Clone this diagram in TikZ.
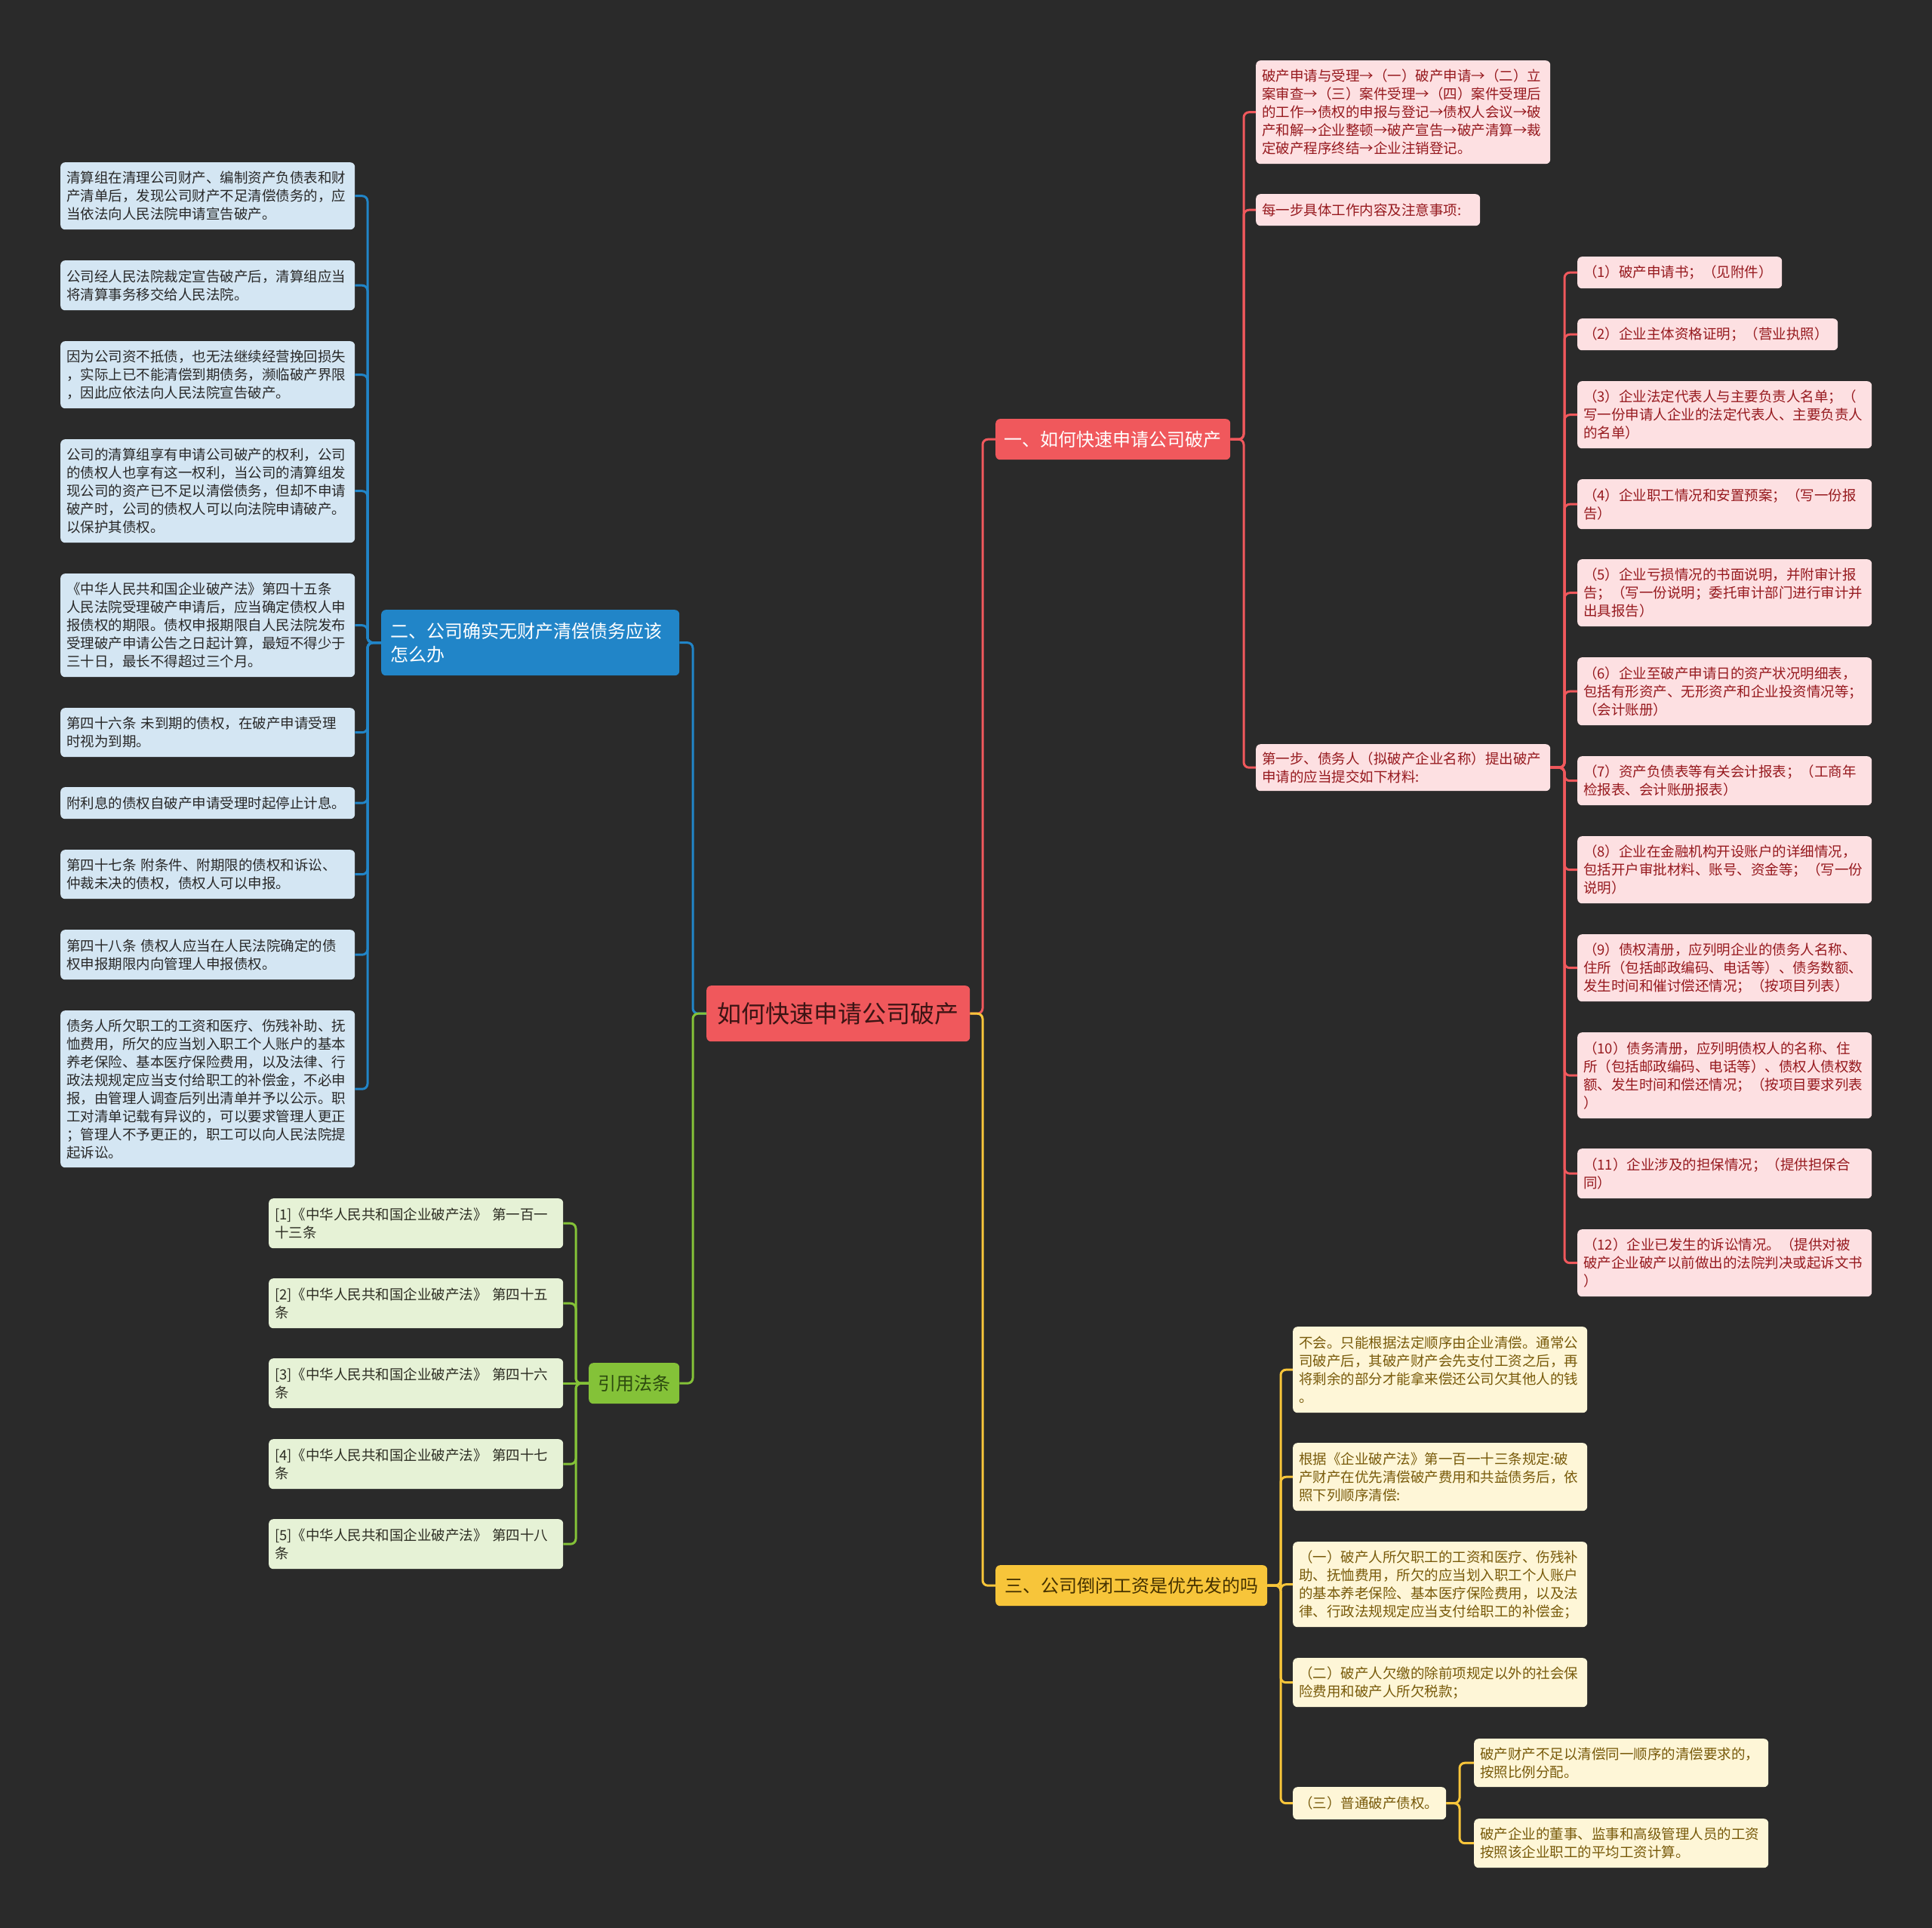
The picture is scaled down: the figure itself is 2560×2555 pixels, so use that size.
\documentclass[tikz,border=0pt]{standalone}
\usepackage{fontspec}
\usepackage{tikz}
\newfontfamily\cjk{Noto Sans CJK SC}
\newcommand\lfnt{\cjk\fontsize{18.5}{24}\selectfont}
\newcommand\mfnt{\cjk\fontsize{24}{31}\selectfont}
\newcommand\rfnt{\cjk\fontsize{32}{40}\selectfont}
\definecolor{bg}{RGB}{42,42,42}
\definecolor{bf}{RGB}{212,230,243}\definecolor{bt}{RGB}{40,40,40}\definecolor{bc}{RGB}{33,133,200}
\definecolor{gf}{RGB}{230,242,214}\definecolor{gt}{RGB}{45,45,35}\definecolor{gc}{RGB}{132,194,56}\definecolor{gmt}{RGB}{45,75,15}
\definecolor{rf}{RGB}{253,224,226}\definecolor{rt}{RGB}{150,25,30}\definecolor{rc}{RGB}{240,88,92}\definecolor{rmt}{RGB}{60,20,20}
\definecolor{yf}{RGB}{254,246,215}\definecolor{yt}{RGB}{120,90,10}\definecolor{yc}{RGB}{247,197,58}\definecolor{ymt}{RGB}{70,50,0}
\tikzset{leaf/.style={anchor=north west,rounded corners=6pt,inner xsep=8pt,inner ysep=0pt,text width=374pt,align=left,font=\lfnt},
 bl/.style={leaf,fill=bf,text=bt},gl/.style={leaf,fill=gf,text=gt},
 rl/.style={leaf,fill=rf,text=rt},yl/.style={leaf,fill=yf,text=yt},
 mn/.style={anchor=north west,rounded corners=6pt,inner sep=0pt,font=\mfnt},
 wire/.style={line width=3pt,rounded corners=7pt}}
\begin{document}
\begin{tikzpicture}[x=1pt,y=-1pt]
\fill[bg] (0,0) rectangle (2560,2555);
\node[mn,fill=rc,text=rmt,minimum width=349pt,minimum height=74pt,font=\rfnt] (root) at (936,1306) {如何快速申请公司破产};
\node[mn,fill=bc,text=white,text width=371pt,align=left,inner xsep=12pt,minimum height=87pt] (bm) at (505,808) {二、公司确实无财产清偿债务应该\\怎么办};
\node[mn,fill=gc,text=gmt,minimum width=120pt,minimum height=54pt] (gm) at (780,1806) {引用法条};
\node[mn,fill=rc,text=white,minimum width=311pt,minimum height=54pt] (rm) at (1319,555) {一、如何快速申请公司破产};
\node[mn,fill=yc,text=ymt,minimum width=360pt,minimum height=54pt] (ym) at (1319,2074) {三、公司倒闭工资是优先发的吗};
\coordinate (s0) at (918,0);\coordinate (s1) at (1302,0);\coordinate (sb) at (487,0);\coordinate (sg) at (763,0);
\coordinate (sr) at (1648,0);\coordinate (sc) at (2073,0);\coordinate (sy) at (1697,0);\coordinate (sy5) at (1934,0);
\node[bl,minimum height=89pt] (b1) at (80,215) {清算组在清理公司财产、编制资产负债表和财\\产清单后，发现公司财产不足清偿债务的，应\\当依法向人民法院申请宣告破产。};
\node[bl,minimum height=66pt] (b2) at (80,345) {公司经人民法院裁定宣告破产后，清算组应当\\将清算事务移交给人民法院。};
\node[bl,minimum height=89pt] (b3) at (80,452) {因为公司资不抵债，也无法继续经营挽回损失\\，实际上已不能清偿到期债务，濒临破产界限\\，因此应依法向人民法院宣告破产。};
\node[bl,minimum height=137pt] (b4) at (80,582) {公司的清算组享有申请公司破产的权利，公司\\的债权人也享有这一权利，当公司的清算组发\\现公司的资产已不足以清偿债务，但却不申请\\破产时，公司的债权人可以向法院申请破产。\\以保护其债权。};
\node[bl,minimum height=137pt] (b5) at (80,760) {《中华人民共和国企业破产法》第四十五条\\人民法院受理破产申请后，应当确定债权人申\\报债权的期限。债权申报期限自人民法院发布\\受理破产申请公告之日起计算，最短不得少于\\三十日，最长不得超过三个月。};
\node[bl,minimum height=65pt] (b6) at (80,938) {第四十六条 未到期的债权，在破产申请受理\\时视为到期。};
\node[bl,minimum height=42pt] (b7) at (80,1043) {附利息的债权自破产申请受理时起停止计息。};
\node[bl,minimum height=65pt] (b8) at (80,1126) {第四十七条 附条件、附期限的债权和诉讼、\\仲裁未决的债权，债权人可以申报。};
\node[bl,minimum height=66pt] (b9) at (80,1232) {第四十八条 债权人应当在人民法院确定的债\\权申报期限内向管理人申报债权。};
\node[bl,minimum height=208pt] (b10) at (80,1339) {债务人所欠职工的工资和医疗、伤残补助、抚\\恤费用，所欠的应当划入职工个人账户的基本\\养老保险、基本医疗保险费用，以及法律、行\\政法规规定应当支付给职工的补偿金，不必申\\报，由管理人调查后列出清单并予以公示。职\\工对清单记载有异议的，可以要求管理人更正\\；管理人不予更正的，职工可以向人民法院提\\起诉讼。};
\node[gl,minimum height=66pt] (g1) at (356,1588) {[1]《中华人民共和国企业破产法》 第一百一\\十三条};
\node[gl,minimum height=66pt] (g2) at (356,1694) {[2]《中华人民共和国企业破产法》 第四十五\\条};
\node[gl,minimum height=66pt] (g3) at (356,1800) {[3]《中华人民共和国企业破产法》 第四十六\\条};
\node[gl,minimum height=66pt] (g4) at (356,1907) {[4]《中华人民共和国企业破产法》 第四十七\\条};
\node[gl,minimum height=66pt] (g5) at (356,2013) {[5]《中华人民共和国企业破产法》 第四十八\\条};
\node[rl,minimum height=137pt] (r1) at (1664,80) {破产申请与受理→（一）破产申请→（二）立\\案审查→（三）案件受理→（四）案件受理后\\的工作→债权的申报与登记→债权人会议→破\\产和解→企业整顿→破产宣告→破产清算→裁\\定破产程序终结→企业注销登记。};
\node[rl,minimum height=42pt,text width=281pt] (r2) at (1664,257) {每一步具体工作内容及注意事项:};
\node[rl,minimum height=62pt] (r3) at (1664,986) {第一步、债务人（拟破产企业名称）提出破产\\申请的应当提交如下材料:};
\node[rl,minimum height=42pt,text width=255pt] (c1) at (2090,340) {（1）破产申请书；（见附件）};
\node[rl,minimum height=42pt,text width=329pt] (c2) at (2090,422) {（2）企业主体资格证明；（营业执照）};
\node[rl,minimum height=89pt] (c3) at (2090,505) {（3）企业法定代表人与主要负责人名单；（\\写一份申请人企业的法定代表人、主要负责人\\的名单）};
\node[rl,minimum height=66pt] (c4) at (2090,635) {（4）企业职工情况和安置预案；（写一份报\\告）};
\node[rl,minimum height=89pt] (c5) at (2090,741) {（5）企业亏损情况的书面说明，并附审计报\\告；（写一份说明；委托审计部门进行审计并\\出具报告）};
\node[rl,minimum height=90pt] (c6) at (2090,871) {（6）企业至破产申请日的资产状况明细表，\\包括有形资产、无形资产和企业投资情况等；\\（会计账册）};
\node[rl,minimum height=65pt] (c7) at (2090,1002) {（7）资产负债表等有关会计报表；（工商年\\检报表、会计账册报表）};
\node[rl,minimum height=89pt] (c8) at (2090,1108) {（8）企业在金融机构开设账户的详细情况，\\包括开户审批材料、账号、资金等；（写一份\\说明）};
\node[rl,minimum height=89pt] (c9) at (2090,1238) {（9）债权清册，应列明企业的债务人名称、\\住所（包括邮政编码、电话等）、债务数额、\\发生时间和催讨偿还情况；（按项目列表）};
\node[rl,minimum height=114pt] (c10) at (2090,1368) {（10）债务清册，应列明债权人的名称、住\\所（包括邮政编码、电话等）、债权人债权数\\额、发生时间和偿还情况；（按项目要求列表\\）};
\node[rl,minimum height=66pt] (c11) at (2090,1522) {（11）企业涉及的担保情况；（提供担保合\\同）};
\node[rl,minimum height=89pt] (c12) at (2090,1629) {（12）企业已发生的诉讼情况。（提供对被\\破产企业破产以前做出的法院判决或起诉文书\\）};
\node[yl,minimum height=114pt] (y1) at (1713,1758) {不会。只能根据法定顺序由企业清偿。通常公\\司破产后，其破产财产会先支付工资之后，再\\将剩余的部分才能拿来偿还公司欠其他人的钱\\。};
\node[yl,minimum height=90pt] (y2) at (1713,1912) {根据《企业破产法》第一百一十三条规定:破\\产财产在优先清偿破产费用和共益债务后，依\\照下列顺序清偿:};
\node[yl,minimum height=113pt] (y3) at (1713,2043) {（一）破产人所欠职工的工资和医疗、伤残补\\助、抚恤费用，所欠的应当划入职工个人账户\\的基本养老保险、基本医疗保险费用，以及法\\律、行政法规规定应当支付给职工的补偿金；};
\node[yl,minimum height=65pt] (y4) at (1713,2197) {（二）破产人欠缴的除前项规定以外的社会保\\险费用和破产人所欠税款；};
\node[yl,minimum height=43pt,text width=187pt] (y5) at (1713,2368) {（三）普通破产债权。};
\node[yl,minimum height=64pt] (y6) at (1953,2304) {破产财产不足以清偿同一顺序的清偿要求的，\\按照比例分配。};
\node[yl,minimum height=65pt] (y7) at (1953,2410) {破产企业的董事、监事和高级管理人员的工资\\按照该企业职工的平均工资计算。};
\draw[wire,bc] (root.west) -- (root.west-|s0) |- (bm.east);
\draw[wire,gc] (root.west) -- (root.west-|s0) |- (gm.east);
\draw[wire,rc] (root.east) -- (root.east-|s1) |- (rm.west);
\draw[wire,yc] (root.east) -- (root.east-|s1) |- (ym.west);
\foreach \i in {1,...,10} \draw[wire,bc] (bm.west) -- (bm.west-|sb) |- (b\i.east);
\foreach \i in {1,2,4,5} \draw[wire,gc] (gm.west) -- (gm.west-|sg) |- (g\i.east);
\draw[wire,gc] (gm.west) -- (g3.east);
\foreach \i in {1,2,3} \draw[wire,rc] (rm.east) -- (rm.east-|sr) |- (r\i.west);
\foreach \i in {1,...,12} \draw[wire,rc] (r3.east) -- (r3.east-|sc) |- (c\i.west);
\foreach \i in {1,...,5} \draw[wire,yc] (ym.east) -- (ym.east-|sy) |- (y\i.west);
\foreach \i in {6,7} \draw[wire,yc] (y5.east) -- (y5.east-|sy5) |- (y\i.west);
\end{tikzpicture}
\end{document}
